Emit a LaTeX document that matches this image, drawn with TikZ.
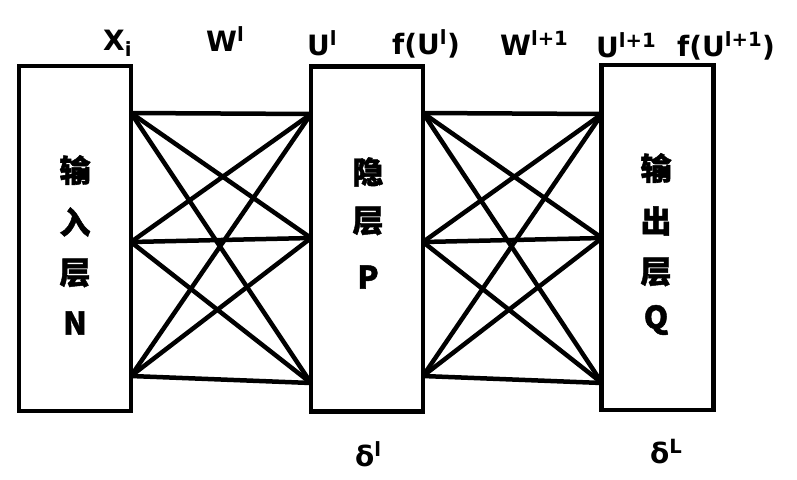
\documentclass[tikz,border=0pt]{standalone}
\usepackage{fontspec}
\setmainfont{DejaVu Sans}
\newfontfamily\cjk{Noto Sans CJK SC}[BoldFeatures={FakeBold=1.5}]
\usetikzlibrary{positioning}

\tikzset{
    layer/.style={draw, line width=4.5pt, minimum width=112pt, minimum height=345pt},
    link/.style={line width=4.5pt},
    lbl/.style={anchor=base west, inner sep=0pt, font=\bfseries\fontsize{28}{30}\selectfont},
    chr/.style={inner sep=0pt, font=\cjk\bfseries\fontsize{31}{33}\selectfont}
}

\begin{document}
\begin{tikzpicture}[x=1pt, y=-1pt]
        \useasboundingbox (0, 0) rectangle (797, 479);

        \node[layer] (in) at (75, 238.5) {};
        \node[layer] (hid) at (367, 239) {};
        \node[layer] (out) at (657.5, 237.5) {};

        \foreach \y[count=\i] in {113, 242, 376} {
            \coordinate (a\i) at (131, \y);
            \coordinate (c\i) at (423, \y);
        }
        \foreach \y[count=\i] in {114, 238, 383} {
            \coordinate (b\i) at (311, \y);
            \coordinate (d\i) at (602, \y);
        }
        \foreach \i in {1, 2, 3} {
            \foreach \j in {1, 2, 3} {
                \draw[link] (a\i) -- (b\j);
                \draw[link] (c\i) -- (d\j);
            }
        }

        \foreach \t/\y[count=\i] in {输/170, 入/222, 层/273, N/323} {
            \node[chr] (in\i) at (75, \y) {\t};
        }
        \foreach \t/\y[count=\i] in {隐/172, 层/221, P/277} {
            \node[chr] (hid\i) at (368, \y) {\t};
        }
        \foreach \t/\y[count=\i] in {输/168, 出/221, 层/272, Q/320} {
            \node[chr] (out\i) at (656, \y) {\t};
        }

        \node[lbl] (xi) at (103, 50) {X\textsubscript{i}};
        \node[lbl] (wl) at (206, 51) {W\textsuperscript{l}};
        \node[lbl] (ul) at (307, 55) {U\textsuperscript{l}};
        \node[lbl] (ful) at (392, 54) {f(U\textsuperscript{l})};
        \node[lbl] (wl1) at (500, 55) {W\textsuperscript{l+1}};
        \node[lbl] (ul1) at (596, 57) {U\textsuperscript{l+1}};
        \node[lbl] (ful1) at (677, 56) {f(U\textsuperscript{l+1})};
        \node[lbl] (dl) at (355, 466) {δ\textsuperscript{l}};
        \node[lbl] (dL) at (650, 463) {δ\textsuperscript{L}};
    \end{tikzpicture}
\end{document}
